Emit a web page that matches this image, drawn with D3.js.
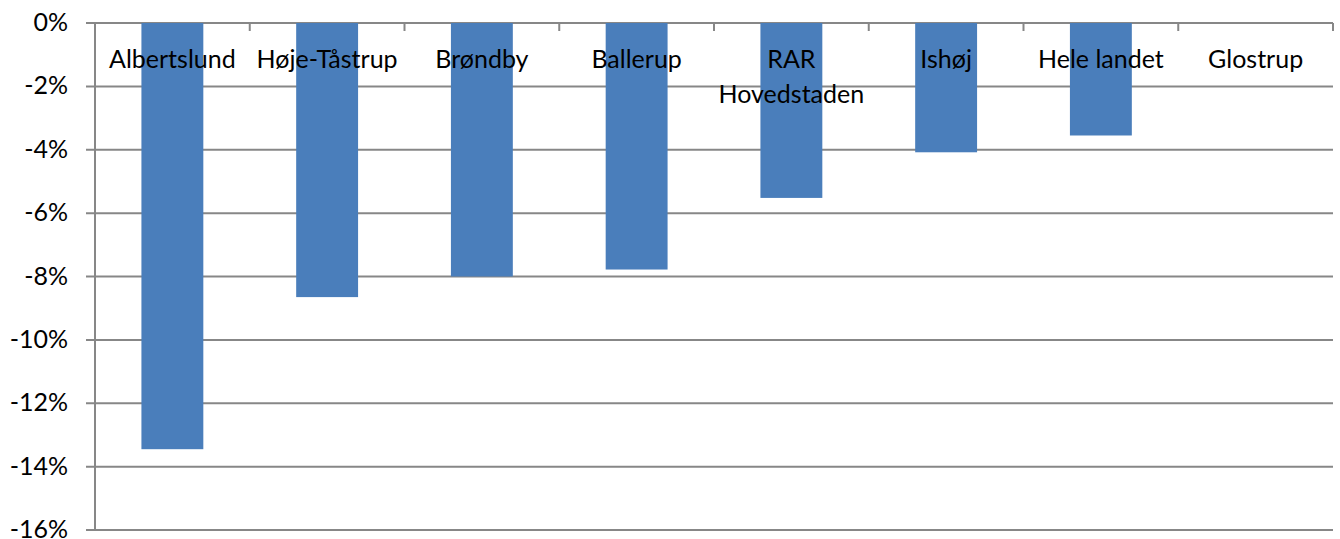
<!DOCTYPE html>
<html>
<head>
<meta charset="utf-8">
<script src="https://cdn.jsdelivr.net/npm/d3@7"></script>
<style>
  body { margin: 0; background: #fff; }
  text { font-family: Lato, "Open Sans", sans-serif; fill: #000; }
</style>
</head>
<body>
<div id="chart"></div>
<script>
// data
var categories = ["Albertslund", "Høje-Tåstrup", "Brøndby", "Ballerup", "RAR Hovedstaden", "Ishøj", "Hele landet", "Glostrup"];
var values = [-13.45, -8.65, -8.0, -7.78, -5.52, -4.08, -3.55, 0];
var yTicks = [0, -2, -4, -6, -8, -10, -12, -14, -16];

var width = 1340;
var height = 539;
var plotLeft = 95, plotRight = 1333, plotTop = 23, plotBottom = 530;

var svg = d3.select("#chart")
  .append("svg")
  .attr("width", width)
  .attr("height", height);

var xScale = d3.scaleBand()
  .domain(categories)
  .range([plotLeft, plotRight])
  .paddingInner(0.6)
  .paddingOuter(0.3);

// band of each category (for ticks and labels)
var xCat = d3.scaleBand().domain(categories).range([plotLeft, plotRight]);

var yScale = d3.scaleLinear()
  .domain([0, -16])
  .range([plotTop, plotBottom]);

// gridlines
svg.append("g")
  .selectAll("line")
  .data(yTicks)
  .enter()
  .append("line")
  .attr("x1", plotLeft - 9)
  .attr("x2", plotRight)
  .attr("y1", function(d) { return yScale(d); })
  .attr("y2", function(d) { return yScale(d); })
  .attr("stroke", "#878787")
  .attr("stroke-width", 2);

// y axis line
svg.append("line")
  .attr("x1", plotLeft).attr("x2", plotLeft)
  .attr("y1", plotTop).attr("y2", plotBottom)
  .attr("stroke", "#878787")
  .attr("stroke-width", 2);

// y labels
svg.append("g")
  .selectAll("text")
  .data(yTicks)
  .enter()
  .append("text")
  .attr("x", 68)
  .attr("y", function(d) { return yScale(d) + 8; })
  .attr("text-anchor", "end")
  .attr("font-size", 25)
  .text(function(d) { return d + "%"; });

// bars
svg.append("g")
  .selectAll("rect")
  .data(values)
  .enter()
  .append("rect")
  .attr("x", function(d, i) { return xScale(categories[i]); })
  .attr("y", yScale(0))
  .attr("width", xScale.bandwidth())
  .attr("height", function(d) { return yScale(d) - yScale(0); })
  .attr("fill", "#4a7ebb");

// category ticks on the zero line
var tickX = categories.map(function(c) { return xCat(c); }).concat([plotRight]);
svg.append("g")
  .selectAll("line")
  .data(tickX)
  .enter()
  .append("line")
  .attr("x1", function(d) { return d; })
  .attr("x2", function(d) { return d; })
  .attr("y1", plotTop)
  .attr("y2", plotTop + 8)
  .attr("stroke", "#878787")
  .attr("stroke-width", 2);

// category labels (wrap RAR Hovedstaden)
var catLabels = svg.append("g")
  .selectAll("text")
  .data(categories)
  .enter()
  .append("text")
  .attr("text-anchor", "middle")
  .attr("font-size", 25);

catLabels.each(function(c) {
  var t = d3.select(this);
  var cx = xCat(c) + xCat.bandwidth() / 2;
  var lines = c === "RAR Hovedstaden" ? ["RAR", "Hovedstaden"] : [c];
  lines.forEach(function(l, k) {
    t.append("tspan").attr("x", cx).attr("y", 68 + k * 35).text(l);
  });
});
</script>
</body>
</html>
